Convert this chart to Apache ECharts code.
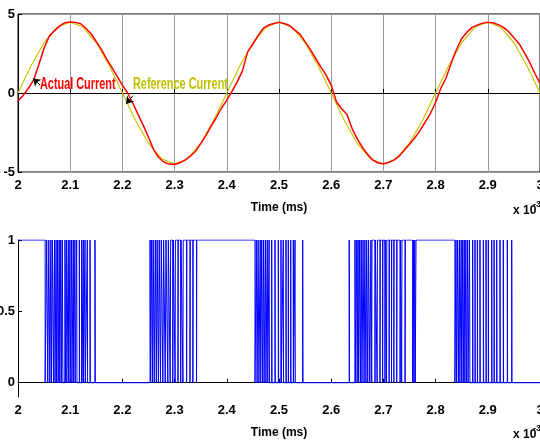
<!DOCTYPE html>
<html>
<head>
<meta charset="utf-8">
<script src="https://cdn.jsdelivr.net/npm/echarts@6/dist/echarts.min.js"></script>
<style>
  html, body { margin: 0; padding: 0; background: #fff; }
  #chart { width: 540px; height: 442px; }
</style>
</head>
<body>
<div id="chart"></div>
<script>
//  time axis (x 10^-3 s)
const timeMin = 2;
const timeMax = 3;
const timeTicks = [2, 2.1, 2.2, 2.3, 2.4, 2.5, 2.6, 2.7, 2.8, 2.9, 3];

//  reference current, sampled every 0.025
const refTimes = [2, 2.025, 2.05, 2.075, 2.1, 2.125, 2.15, 2.175, 2.2, 2.225, 2.25, 2.275, 2.3, 2.325, 2.35, 2.375,
    2.4, 2.425, 2.45, 2.475, 2.5, 2.525, 2.55, 2.575, 2.6, 2.625, 2.65, 2.675, 2.7, 2.725, 2.75, 2.775,
    2.8, 2.825, 2.85, 2.875, 2.9, 2.925, 2.95, 2.975, 3];
const refCurrent = [0, 1.72, 3.18, 4.16, 4.5, 4.16, 3.18, 1.72, 0, -1.72, -3.18, -4.16, -4.5, -4.16, -3.18, -1.72,
    0, 1.72, 3.18, 4.16, 4.5, 4.16, 3.18, 1.72, 0, -1.72, -3.18, -4.16, -4.5, -4.16, -3.18, -1.72,
    0, 1.72, 3.18, 4.16, 4.5, 4.16, 3.18, 1.72, 0];

//  actual current, read every 0.01 from 2.00 to 3.00
const actualCurrent = [
    -0.5, -0.15, 0.3, 0.82, 1.8, 2.85, 3.6, 3.95, 4.25, 4.45,
    4.5, 4.47, 4.38, 4.1, 3.75, 3.25, 2.75, 2.15, 1.6, 1.05,
    0.5, 0.0, -0.65, -1.35, -2.05, -2.8, -3.6, -4.1, -4.38, -4.5,
    -4.53, -4.42, -4.25, -4.0, -3.7, -3.2, -2.7, -2.1, -1.55, -0.95,
    -0.45, 0.1, 0.7, 1.4, 2.6, 3.1, 3.65, 4.1, 4.3, 4.4,
    4.47, 4.4, 4.27, 4.0, 3.73, 3.25, 2.75, 2.2, 1.65, 1.15,
    0.5, -0.55, -1.0, -1.35, -2.25, -2.9, -3.45, -3.9, -4.25, -4.43,
    -4.48, -4.4, -4.25, -4.0, -3.62, -3.25, -2.85, -2.38, -1.85, -1.3,
    -0.6, 0.3, 0.95, 1.9, 2.75, 3.45, 3.85, 4.15, 4.3, 4.42,
    4.47, 4.45, 4.33, 4.15, 3.88, 3.5, 3.12, 2.55, 1.95, 1.25,
    0.6
];
const actualStep = 0.01;

//  switching signal: intervals where the gate is 1
const pulseOn = [
    2.000, 2.055, 2.059, 2.063, 2.066, 2.070, 2.073, 2.076, 2.079, 2.082, 2.085,
    2.090, 2.093, 2.0964, 2.0996, 2.1028, 2.106, 2.109, 2.1124, 2.1175, 2.122, 2.1251, 2.1284, 2.1328, 2.138, 2.1475,
    2.2530, 2.2560, 2.2590, 2.2630, 2.2665, 2.2705, 2.2745, 2.2790, 2.2835, 2.2880, 2.2925, 2.2975,
    2.3015, 2.3070, 2.3122, 2.3165, 2.3235, 2.3300, 2.3355, 2.3425,
    2.4565, 2.4600, 2.4640, 2.4670, 2.4705, 2.4740, 2.4775, 2.4810, 2.4860, 2.4923, 2.4987, 2.5038,
    2.5082, 2.5134, 2.5178, 2.5224, 2.5274, 2.5307, 2.5454,
    2.6345, 2.6456, 2.6490, 2.6515, 2.6545, 2.6575, 2.6610, 2.6645, 2.6680, 2.6715, 2.6760,
    2.6782, 2.6844, 2.6885, 2.6940, 2.6990, 2.7035, 2.7065, 2.7115, 2.7160, 2.7205, 2.7260, 2.7325, 2.7355,
    2.7420, 2.7575, 2.7600, 2.7625,
    2.8390, 2.8420, 2.8455, 2.8490, 2.8520, 2.8550, 2.8580, 2.8615, 2.8650, 2.8710, 2.8755, 2.8800,
    2.8850, 2.8915, 2.8966, 2.9010, 2.9075, 2.9120, 2.9170, 2.9234, 2.9297, 2.9374, 2.9458
];
const pulseOff = [
    2.052, 2.057, 2.061, 2.064, 2.068, 2.071, 2.074, 2.077, 2.080, 2.083, 2.086,
    2.0905, 2.0935, 2.097, 2.100, 2.1033, 2.1065, 2.1095, 2.113, 2.118, 2.1225, 2.1256, 2.129, 2.1333, 2.1385, 2.148,
    2.2540, 2.2575, 2.2610, 2.2650, 2.2690, 2.2730, 2.2775, 2.2820, 2.2870, 2.2915, 2.2965, 2.3010,
    2.3065, 2.3117, 2.3160, 2.3230, 2.3295, 2.3350, 2.3420, 2.4540,
    2.4580, 2.4615, 2.4650, 2.4685, 2.4715, 2.4750, 2.4785, 2.4818, 2.4866, 2.4929, 2.4993, 2.5044,
    2.5087, 2.5139, 2.5183, 2.5229, 2.5279, 2.5312, 2.5459,
    2.6350, 2.6462, 2.6497, 2.6525, 2.6560, 2.6590, 2.6630, 2.6665, 2.6700, 2.6740, 2.6776,
    2.6839, 2.6880, 2.6935, 2.6985, 2.7030, 2.7060, 2.7110, 2.7155, 2.7200, 2.7255, 2.7320, 2.7350, 2.7415,
    2.7560, 2.7585, 2.7610, 2.8370,
    2.8400, 2.8435, 2.8465, 2.8500, 2.8530, 2.8560, 2.8590, 2.8622, 2.8657, 2.8715, 2.8760, 2.8805,
    2.8855, 2.8920, 2.8971, 2.9015, 2.9080, 2.9125, 2.9175, 2.9239, 2.9302, 2.9379, 2.9463
];

//  annotations: text, anchor (left/middle of text) and arrow (from -> tip)
const noteTexts = ['Actual Current', 'Reference Current'];
const noteColors = ['#ff0000', '#c0c000'];
const noteAnchors = [[2.0421, 0.55], [2.2203, 0.55]];
const arrowFrom = [[2.0425, 0.5], [2.2203, -0.17]];
const arrowTo = [[2.029, 0.92], [2.207, -0.69]];

const fontFamily = "'Liberation Sans', Arial, sans-serif";
const labelFont = {color: '#000', fontWeight: 'bold', fontSize: 13, fontFamily: fontFamily};

//  build series data
const refData = refTimes.map((t, i) => [t, refCurrent[i]]);
const actualData = actualCurrent.map((v, i) => [+(timeMin + i * actualStep).toFixed(3), v]);

const gateData = [];
pulseOn.forEach((on, i) => {
    const off = pulseOff[i];
    if (on > timeMin) gateData.push([on, 0]);
    gateData.push([on, 1], [off, 1], [off, 0]);
});
gateData.push([timeMax, 0]);

function xAxisFor(gridIndex, showGrid) {
    return {
        type: 'value',
        gridIndex: gridIndex,
        min: timeMin,
        max: timeMax,
        interval: 0.1,
        name: 'Time (ms)',
        nameLocation: 'middle',
        nameGap: 30,
        nameTextStyle: {color: '#000', fontWeight: 'bold', fontSize: 12, fontFamily: fontFamily},
        axisLine: {lineStyle: {color: '#000', width: 1}},
        axisTick: {inside: true, length: 4, lineStyle: {color: '#000'}},
        axisLabel: Object.assign({
            margin: 7,
            formatter: function (v) {
                const r = Math.round(v * 10) / 10;
                return timeTicks.indexOf(r) >= 0 ? String(r) : '';
            }
        }, labelFont),
        splitLine: {show: showGrid, lineStyle: {color: '#9a9a9a', width: 1}}
    };
}

const myChart = echarts.init(document.getElementById('chart'));
myChart.setOption({
    animation: false,
    backgroundColor: '#fff',
    grid: [
        {left: 18, top: 14, width: 522, height: 158, containLabel: false, outerBoundsMode: 'none',
            show: true, borderColor: '#000', borderWidth: 1},
        {left: 18, top: 240, width: 522, height: 157, containLabel: false, outerBoundsMode: 'none'}
    ],
    xAxis: [xAxisFor(0, true), xAxisFor(1, false)],
    yAxis: [
        {
            type: 'value',
            gridIndex: 0,
            min: -5,
            max: 5,
            interval: 5,
            axisLine: {show: true, lineStyle: {color: '#000'}},
            axisTick: {show: true, inside: true, length: 4, lineStyle: {color: '#000'}},
            axisLabel: Object.assign({margin: 3}, labelFont),
            splitLine: {show: true, lineStyle: {color: '#9a9a9a', width: 1}}
        },
        {
            type: 'value',
            gridIndex: 1,
            min: -0.1,
            max: 1,
            axisLine: {show: true, lineStyle: {color: '#000'}},
            axisTick: {show: true, inside: true, length: 4, lineStyle: {color: '#000'}, customValues: [0, 0.5, 1]},
            axisLabel: Object.assign({margin: 3, customValues: [0, 0.5, 1]}, labelFont),
            splitLine: {show: false}
        }
    ],
    series: [
        {
            name: 'Reference Current',
            type: 'line',
            xAxisIndex: 0,
            yAxisIndex: 0,
            data: refData,
            showSymbol: false,
            lineStyle: {color: '#c8c800', width: 1.2},
            z: 2
        },
        {
            name: 'Actual Current',
            type: 'line',
            xAxisIndex: 0,
            yAxisIndex: 0,
            data: actualData,
            showSymbol: false,
            lineStyle: {color: '#ff0000', width: 1.5},
            markLine: {
                silent: true,
                symbol: ['none', 'arrow'],
                symbolSize: 7,
                label: {show: false},
                lineStyle: {color: '#000', width: 1, type: 'solid'},
                data: arrowFrom.map((p, i) => [{coord: p}, {coord: arrowTo[i]}])
            },
            z: 3
        },
        {
            name: 'Gate',
            type: 'line',
            xAxisIndex: 1,
            yAxisIndex: 1,
            data: gateData,
            showSymbol: false,
            lineStyle: {color: '#0000ff', width: 1},
            z: 3
        }
    ]
});

//  condensed bold texts (narrow font is not installed, so squeeze it)
const notes = noteTexts.map((text, i) => {
    const p = myChart.convertToPixel({gridIndex: 0}, noteAnchors[i]);
    return {
        type: 'text', x: p[0], y: p[1], scaleX: 0.68, z: 10,
        style: {text: text, fill: noteColors[i], font: 'bold 16px ' + fontFamily, verticalAlign: 'middle'}
    };
});
const exps = [205, 429].map(y => [
    {type: 'text', x: 513, y: y, style: {text: 'x 10', fill: '#000', font: 'bold 12px ' + fontFamily}},
    {type: 'text', x: 533, y: y - 5, style: {text: '-3', fill: '#000', font: 'bold 9px ' + fontFamily}}
]);
myChart.setOption({graphic: notes.concat(exps[0], exps[1])});
</script>
</body>
</html>
